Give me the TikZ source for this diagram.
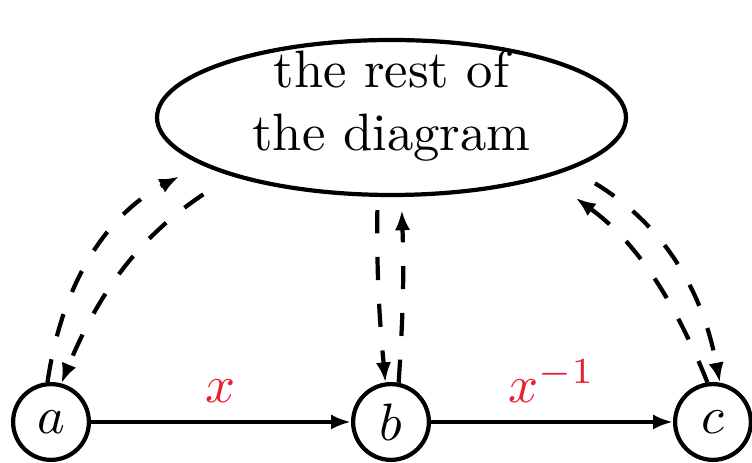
\documentclass[tikz,border=0pt]{standalone}
\usetikzlibrary{arrows.meta,shapes.geometric}
\definecolor{labelred}{RGB}{232,32,48}
\begin{document}
\begin{tikzpicture}[x=0.19pt,y=-0.19pt,
  state/.style={circle,draw,line width=0.8pt,minimum size=14.4pt,inner sep=0pt},
  cloud/.style={ellipse,draw,line width=0.8pt,minimum width=89.1pt,minimum height=29.45pt,inner sep=0pt},
  cloudtext/.style={align=center,inner sep=0pt},
  edge/.style={-{Latex[length=3.8pt,width=2.9pt]},line width=0.8pt},
  dashedge/.style={edge,dash pattern=on 4.4pt off 4.5pt},
  lbl/.style={text=labelred,above}]
\useasboundingbox (0,0) rectangle (752,463);
\node[state] (a) at (51,422) {$a$};
\node[state] (b) at (391,422) {$b$};
\node[state] (c) at (713,422) {$c$};
\node[cloud] (rest) at (391.5,117.5) {};
\node[cloudtext] (resttext) at (391.5,106) {the rest of\\the diagram};
\draw[edge] (a) -- node[lbl]{$x$} (b);
\draw[edge] (b) -- node[lbl]{$x^{-1}$} (c);
\draw[dashedge,shorten >=4.75pt] (a.95.7) to[bend left=27] (rest.194.4);
\draw[dashedge,shorten <=6.3pt] (rest.200) to[bend right=17] (a.75);
\draw[dashedge,shorten <=2.5pt] (rest.260.8) to[bend right=3] (b.98.5);
\draw[dashedge,shorten >=2.5pt] (b.79.7) to[bend right=3] (rest.277.7);
\draw[dashedge,shorten <=5.2pt] (rest.344.5) to[bend left=24] (c.80);
\draw[dashedge,shorten >=6.65pt] (c.98.5) to[bend right=16] (rest.339.3);
\end{tikzpicture}
\end{document}
